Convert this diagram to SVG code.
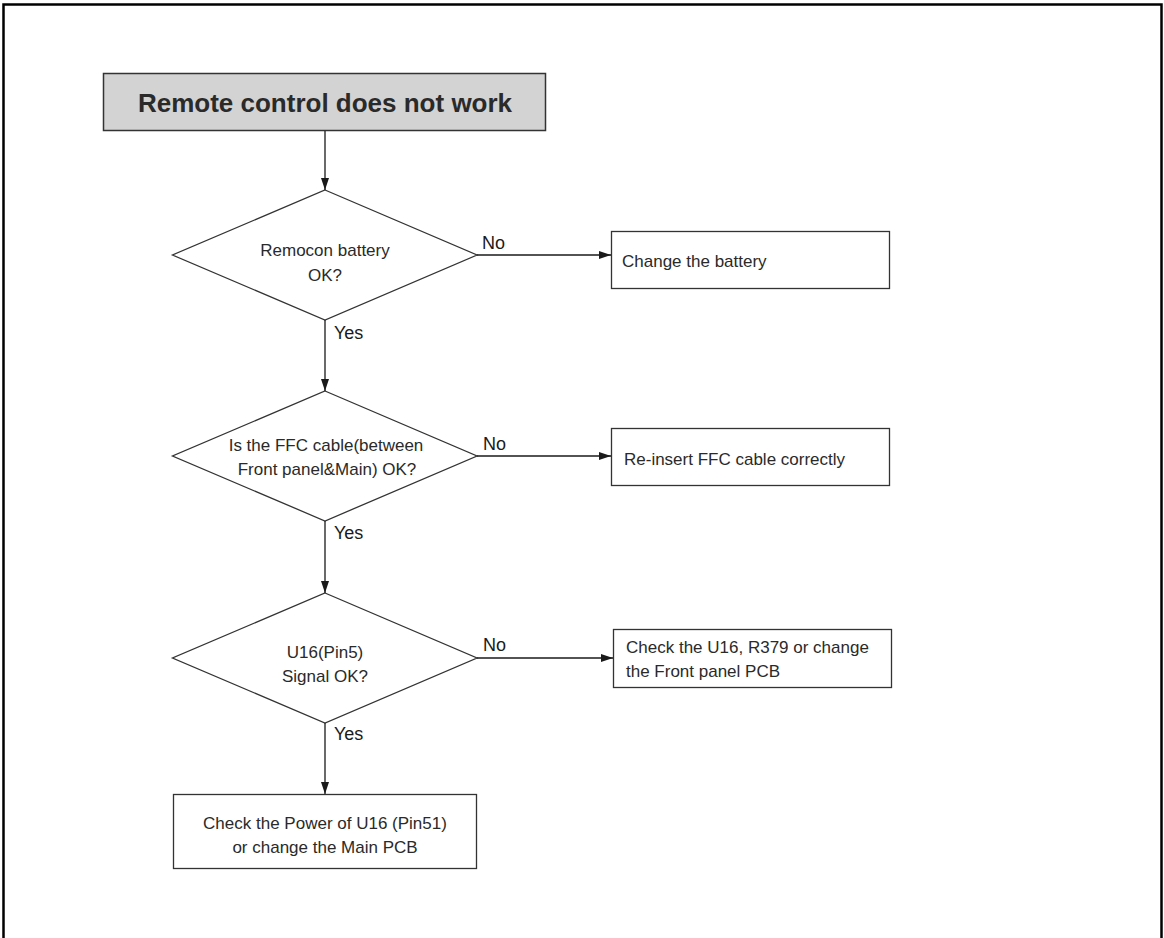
<svg xmlns="http://www.w3.org/2000/svg" width="1164" height="938" viewBox="0 0 1164 938">
<style>
.t{font-family:"Liberation Sans",Arial,sans-serif;font-size:17px;fill:#2a2a2a}
.title{font-family:"Liberation Sans",Arial,sans-serif;font-size:26px;font-weight:bold;fill:#2a2a2a}
.lbl{font-family:"Liberation Sans",Arial,sans-serif;font-size:18px;fill:#1a1a1a}
.shape{fill:#fff;stroke:#333;stroke-width:1.3}
.line{stroke:#1a1a1a;stroke-width:1.3;fill:none}
</style>
<defs>
<marker id="arr" markerWidth="12" markerHeight="8" refX="12" refY="4" orient="auto" markerUnits="userSpaceOnUse">
<path d="M0,0 L12,4 L0,8 Z" fill="#1a1a1a"/>
</marker>
</defs>
<rect x="0" y="0" width="1164" height="938" fill="#fff"/>
<rect x="3.5" y="4.5" width="1158" height="1000" fill="none" stroke="#000" stroke-width="2.5"/>
<g id="start">
<rect x="103.5" y="73.5" width="442" height="57" fill="#d3d3d3" stroke="#333" stroke-width="1.5"/>
<text class="title" x="325" y="112" text-anchor="middle">Remote control does not work</text>
</g>
<g id="d1">
<polygon class="shape" points="325,190 477,255 325,320 172.5,255"/>
<text class="t" x="325" y="256" text-anchor="middle">Remocon battery</text>
<text class="t" x="325" y="281" text-anchor="middle">OK?</text>
</g>
<g id="b1">
<rect class="shape" x="611.5" y="231.5" width="278" height="57"/>
<text class="t" x="622" y="267">Change the battery</text>
</g>
<g id="d2">
<polygon class="shape" points="325,391 477,456 325,521 172.5,456"/>
<text class="t" x="326" y="451" text-anchor="middle">Is the FFC cable(between</text>
<text class="t" x="327" y="475" text-anchor="middle">Front panel&amp;Main) OK?</text>
</g>
<g id="b2">
<rect class="shape" x="611.5" y="428.5" width="278" height="57"/>
<text class="t" x="624" y="465">Re-insert FFC cable correctly</text>
</g>
<g id="d3">
<polygon class="shape" points="325,593 477,658 325,723 172.5,658"/>
<text class="t" x="325" y="658" text-anchor="middle">U16(Pin5)</text>
<text class="t" x="325" y="682" text-anchor="middle">Signal OK?</text>
</g>
<g id="b3">
<rect class="shape" x="613.5" y="629.5" width="278" height="58"/>
<text class="t" x="626" y="653">Check the U16, R379 or change</text>
<text class="t" x="626" y="677">the Front panel PCB</text>
</g>
<g id="b4">
<rect class="shape" x="173.5" y="794.5" width="303" height="74"/>
<text class="t" x="325" y="829" text-anchor="middle">Check the Power of U16 (Pin51)</text>
<text class="t" x="325" y="853" text-anchor="middle">or change the Main PCB</text>
</g>
<g id="connectors">
<line class="line" x1="325" y1="131" x2="325" y2="190" marker-end="url(#arr)"/>
<line class="line" x1="477" y1="255" x2="611" y2="255" marker-end="url(#arr)"/>
<line class="line" x1="325" y1="320" x2="325" y2="391" marker-end="url(#arr)"/>
<line class="line" x1="477" y1="456" x2="611" y2="456" marker-end="url(#arr)"/>
<line class="line" x1="325" y1="521" x2="325" y2="593" marker-end="url(#arr)"/>
<line class="line" x1="477" y1="658" x2="613" y2="658" marker-end="url(#arr)"/>
<line class="line" x1="325" y1="723" x2="325" y2="794" marker-end="url(#arr)"/>
<text class="lbl" x="482" y="249">No</text>
<text class="lbl" x="334" y="339">Yes</text>
<text class="lbl" x="483" y="450">No</text>
<text class="lbl" x="334" y="539">Yes</text>
<text class="lbl" x="483" y="651">No</text>
<text class="lbl" x="334" y="740">Yes</text>
</g>
</svg>
